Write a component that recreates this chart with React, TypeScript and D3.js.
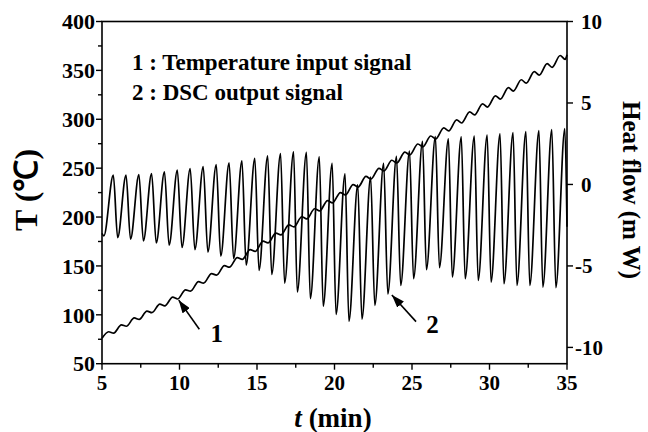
import React, { useEffect, useRef } from "react";
import * as d3 from "d3";

const width = 648;
const height = 432;

const timeTicks = [5, 10, 15, 20, 25, 30, 35];
const timeMinorTicks = [7.5, 12.5, 17.5, 22.5, 27.5, 32.5];
const tempTicks = [50, 100, 150, 200, 250, 300, 350, 400];
const tempMinorTicks = [75, 125, 175, 225, 275, 325, 375];
const heatTicks = [-10, -5, 0, 5, 10];

const legendLines = ["1 : Temperature input signal", "2 : DSC output signal"];

// curve 1: temperature (°C), local bumps and dips
const tempSignal: [number, number][] = [
  [5.0, 76], [5.43, 82.7], [5.75, 81.3], [6.25, 89.7], [6.57, 88.3],
  [7.08, 96.8], [7.4, 95.3], [7.9, 103.8], [8.22, 102.2], [8.73, 110.9],
  [9.05, 109.2], [9.56, 118.0], [9.88, 116.2], [10.39, 125.6], [10.71, 124.2],
  [11.23, 133.9], [11.55, 132.4], [12.07, 142.1], [12.39, 140.6], [12.9, 150.3],
  [13.22, 148.7], [13.73, 158.5], [14.05, 156.7], [14.56, 166.7], [14.88, 164.8],
  [15.39, 175.4], [15.71, 173.5], [16.22, 183.6], [16.54, 181.7], [17.06, 192.0],
  [17.38, 189.9], [17.89, 200.3], [18.21, 198.1], [18.72, 208.5], [19.04, 206.3],
  [19.55, 216.8], [19.87, 214.5], [20.38, 225.0], [20.7, 222.6], [21.2, 233.2],
  [21.52, 230.7], [22.03, 241.5], [22.35, 238.9], [22.87, 249.8], [23.19, 247.2],
  [23.7, 258.1], [24.02, 255.4], [24.54, 266.4], [24.86, 263.6], [25.38, 274.7],
  [25.7, 271.8], [26.21, 282.9], [26.53, 279.9], [27.05, 291.2], [27.37, 288.1],
  [27.88, 299.4], [28.2, 296.2], [28.72, 307.6], [29.04, 304.4], [29.55, 315.8],
  [29.87, 312.5], [30.38, 324.0], [30.7, 320.6], [31.22, 332.3], [31.54, 328.8],
  [32.05, 340.4], [32.37, 336.9], [32.89, 348.7], [33.21, 345.1], [33.72, 356.9],
  [34.04, 353.1], [34.56, 365.2], [34.88, 361.3], [35.0, 366],
];

// curve 2: DSC heat flow (mW), peaks and troughs
const dscSignal: [number, number][] = [
  [5.0, -3.0], [5.12, -3.15],
  [5.73, 0.57], [6.01, -3.26], [6.55, 0.57], [6.84, -3.36],
  [7.38, 0.6], [7.67, -3.47], [8.2, 0.67], [8.5, -3.59],
  [9.03, 0.78], [9.33, -3.73], [9.86, 0.88], [10.16, -3.87],
  [10.69, 0.98], [10.99, -4.0], [11.53, 1.1], [11.83, -4.15],
  [12.37, 1.22], [12.66, -4.4], [13.2, 1.33], [13.49, -4.55],
  [14.03, 1.45], [14.3, -4.95], [14.86, 1.6], [15.13, -5.27],
  [15.69, 1.76], [15.95, -5.52], [16.52, 1.9], [16.78, -6.05],
  [17.36, 2.0], [17.6, -6.6], [18.19, 1.97], [18.44, -7.01],
  [19.02, 1.7], [19.27, -7.47], [19.85, 1.29], [20.1, -7.98],
  [20.68, 0.65], [20.93, -8.39], [21.5, -0.02], [21.77, -8.26],
  [22.33, 0.45], [22.6, -7.42], [23.17, 1.29], [23.44, -6.72],
  [24.0, 1.72], [24.27, -6.19], [24.84, 2.05], [25.1, -5.78],
  [25.68, 2.65], [25.93, -5.23], [26.51, 2.93], [26.77, -5.1],
  [27.35, 2.8], [27.6, -5.68], [28.18, 2.92], [28.43, -5.78],
  [29.02, 2.97], [29.27, -5.89], [29.85, 3.03], [30.1, -5.99],
  [30.68, 3.1], [30.93, -6.09], [31.52, 3.18], [31.77, -6.19],
  [32.35, 3.25], [32.6, -6.2], [33.19, 3.3], [33.44, -6.3],
  [34.02, 3.36], [34.28, -6.33], [34.86, 3.43], [35.0, -2.6],
];

// arrows: [tailT, tailValue, headT, headValue]
const arrowTemp = [11.28, 85.2, 9.95, 115];
const arrowDsc = [25.26, -8.42, 23.7, -6.78];

const FONT = "'Liberation Serif', 'Times New Roman', serif";

const App = () => {
  const svgRef = useRef<SVGSVGElement>(null);

  useEffect(() => {
    const svg = d3.select(svgRef.current);
    svg.selectAll("*").remove();

    const left = 102;
    const right = 567;
    const top = 21.5;
    const bottom = 363.7;

    const x = d3.scaleLinear().domain([5, 35]).range([left, right]);
    const yT = d3.scaleLinear().domain([50, 400]).range([bottom, top]);
    const yH = d3.scaleLinear().domain([-11, 10]).range([bottom, top]);

    svg.append("rect").attr("width", width).attr("height", height).attr("fill", "#fff");

    const defs = svg.append("defs");
    defs.append("marker")
      .attr("id", "head")
      .attr("markerUnits", "userSpaceOnUse")
      .attr("viewBox", "0 0 13 9")
      .attr("refX", 13)
      .attr("refY", 4.5)
      .attr("markerWidth", 13)
      .attr("markerHeight", 9)
      .attr("orient", "auto")
      .append("path")
      .attr("d", "M0,0 L13,4.5 L0,9 Z")
      .attr("fill", "#000");

    const line = d3.line<[number, number]>().curve(d3.curveMonotoneX);

    // curves
    svg.append("path")
      .attr("d", line.x((d) => x(d[0])).y((d) => yH(d[1]))(dscSignal))
      .attr("fill", "none")
      .attr("stroke", "#000")
      .attr("stroke-width", 1.7)
      .attr("stroke-linejoin", "round");

    svg.append("path")
      .attr("d", line.x((d) => x(d[0])).y((d) => yT(d[1]))(tempSignal))
      .attr("fill", "none")
      .attr("stroke", "#000")
      .attr("stroke-width", 1.7)
      .attr("stroke-linejoin", "round");

    // frame
    svg.append("rect")
      .attr("x", left)
      .attr("y", top)
      .attr("width", right - left)
      .attr("height", bottom - top)
      .attr("fill", "none")
      .attr("stroke", "#000")
      .attr("stroke-width", 1.6);

    const ticks = svg.append("g").attr("stroke", "#000").attr("stroke-width", 1.4);

    // bottom axis
    ticks.selectAll("line.xmaj").data(timeTicks).join("line")
      .attr("class", "xmaj")
      .attr("x1", (d) => x(d)).attr("x2", (d) => x(d))
      .attr("y1", bottom).attr("y2", bottom + 6);
    ticks.selectAll("line.xmin").data(timeMinorTicks).join("line")
      .attr("class", "xmin")
      .attr("x1", (d) => x(d)).attr("x2", (d) => x(d))
      .attr("y1", bottom).attr("y2", bottom + 4);

    // left axis
    ticks.selectAll("line.ymaj").data(tempTicks).join("line")
      .attr("class", "ymaj")
      .attr("x1", left).attr("x2", left - 6)
      .attr("y1", (d) => yT(d)).attr("y2", (d) => yT(d));
    ticks.selectAll("line.ymin").data(tempMinorTicks).join("line")
      .attr("class", "ymin")
      .attr("x1", left).attr("x2", left - 4)
      .attr("y1", (d) => yT(d)).attr("y2", (d) => yT(d));

    // right axis
    ticks.selectAll("line.hmaj").data(heatTicks).join("line")
      .attr("class", "hmaj")
      .attr("x1", right).attr("x2", right + 6)
      .attr("y1", (d) => yH(d)).attr("y2", (d) => yH(d));

    const labels = svg.append("g")
      .attr("font-family", FONT)
      .attr("font-weight", "bold")
      .attr("fill", "#000");

    labels.selectAll("text.xl").data(timeTicks).join("text")
      .attr("class", "xl")
      .attr("x", (d) => x(d))
      .attr("y", bottom + 26)
      .attr("text-anchor", "middle")
      .attr("font-size", 21)
      .text((d) => d);

    labels.selectAll("text.yl").data(tempTicks).join("text")
      .attr("class", "yl")
      .attr("x", left - 7)
      .attr("y", (d) => yT(d))
      .attr("dy", "0.35em")
      .attr("text-anchor", "end")
      .attr("font-size", 22)
      .text((d) => d);

    labels.selectAll("text.hl").data(heatTicks).join("text")
      .attr("class", "hl")
      .attr("x", (d) => right + (d < 0 ? 8 : 14))
      .attr("y", (d) => yH(d))
      .attr("dy", "0.35em")
      .attr("font-size", 21)
      .text((d) => d);

    // legend
    labels.selectAll("text.lg").data(legendLines).join("text")
      .attr("class", "lg")
      .attr("x", left + 30)
      .attr("y", (_, i) => 70 + i * 30)
      .attr("font-size", 23)
      .text((d) => d);

    // axis titles
    const xTitle = labels.append("text")
      .attr("x", 333)
      .attr("y", 427)
      .attr("text-anchor", "middle")
      .attr("font-size", 27);
    xTitle.append("tspan").attr("font-style", "italic").text("t");
    xTitle.append("tspan").text(" (min)");

    labels.append("text")
      .attr("transform", "translate(37,190) rotate(-90)")
      .attr("text-anchor", "middle")
      .attr("font-size", 32)
      .text("T (℃)");

    labels.append("text")
      .attr("transform", "translate(623,190) rotate(90)")
      .attr("text-anchor", "middle")
      .attr("font-size", 25)
      .text("Heat flow (m W)");

    // arrows and their numbers
    const arrows = svg.append("g").attr("stroke", "#000").attr("stroke-width", 1.6);
    arrows.append("line")
      .attr("x1", x(arrowTemp[0])).attr("y1", yT(arrowTemp[1]))
      .attr("x2", x(arrowTemp[2])).attr("y2", yT(arrowTemp[3]))
      .attr("marker-end", "url(#head)");
    arrows.append("line")
      .attr("x1", x(arrowDsc[0])).attr("y1", yH(arrowDsc[1]))
      .attr("x2", x(arrowDsc[2])).attr("y2", yH(arrowDsc[3]))
      .attr("marker-end", "url(#head)");

    labels.append("text")
      .attr("x", x(12.4))
      .attr("y", yT(72.7))
      .attr("text-anchor", "middle")
      .attr("font-size", 25)
      .text("1");
    labels.append("text")
      .attr("x", x(26.32))
      .attr("y", yH(-9.12))
      .attr("text-anchor", "middle")
      .attr("font-size", 25)
      .text("2");
  }, []);

  return (
    <svg
      ref={svgRef}
      width={width}
      height={height}
      style={{ position: "absolute", left: 0, top: 0 }}
    />
  );
};

export default App;
